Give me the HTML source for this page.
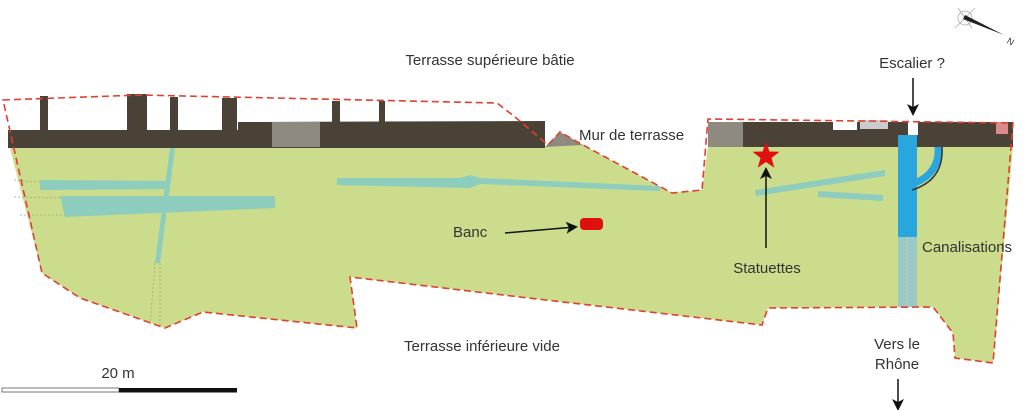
<!DOCTYPE html>
<html><head><meta charset="utf-8"><style>
html,body{margin:0;padding:0;background:#fff;}
svg{display:block;}
text{font-family:"Liberation Sans",sans-serif;fill:#333;font-size:15px;}
</style></head><body>
<svg width="1024" height="410" viewBox="0 0 1024 410" xmlns="http://www.w3.org/2000/svg">
<defs>
<marker id="ah" markerWidth="12" markerHeight="12" refX="9" refY="6" orient="auto" markerUnits="userSpaceOnUse">
<path d="M0,0 L12,6 L0,12 L3,6 Z" fill="#111"/></marker>
</defs>
<path d="M8,148 L545,147 L560,132 L583,145 L672,193 L702,190 L708,147 L1013,147 L993,363 L955,358 L953,333 L933,307 L768,308 L762,325 L520,297 L350,277 L357,328 L203,312 L165,328 L80,298 L42,273 L10,148 Z" fill="#cbdc8c"/>
<path d="M8,130 L238,130 L238,122 L545,121 L545,148 L8,148 Z" fill="#4a4236"/>
<rect x="272" y="122" width="48" height="25" fill="#8f8a80"/>
<rect x="40" y="96" width="8" height="35" fill="#4a4236"/>
<rect x="127" y="94" width="20" height="37" fill="#4a4236"/>
<rect x="170" y="97" width="8" height="34" fill="#4a4236"/>
<rect x="222" y="98" width="15" height="32" fill="#4a4236"/>
<rect x="332" y="101" width="8" height="22" fill="#4a4236"/>
<rect x="379" y="101" width="6" height="22" fill="#4a4236"/>
<path d="M545,147 L560,132 L583,145 Z" fill="#8f8a80"/>
<rect x="708" y="122" width="305" height="25" fill="#4a4236"/>
<rect x="708" y="122" width="35" height="25" fill="#8f8a80"/>
<rect x="833" y="121" width="24" height="9" fill="#fff"/>
<rect x="860" y="120" width="28" height="9" fill="#ccc"/>
<rect x="908" y="121" width="10" height="14" fill="#fff"/>
<rect x="996" y="122" width="12" height="12" fill="#d98a8a"/>
<path d="M40,180 L170,181 L170,189 L40,190 Z" fill="#8ccdbd"/>
<path d="M60,196 L275,196 L275,208 L65,217 Z" fill="#8ccdbd"/>
<path d="M170,148 L175,148 L160,263 L155,263 Z" fill="#8ccdbd"/>
<path d="M155,263 L150,326 M160,263 L160,326" stroke="#9aae70" stroke-width="0.8" stroke-dasharray="2,2"/>
<path d="M337,178 L460,178 L470,175 L480,178 L660,186 L660,191 L480,184 L470,188 L337,185 Z" fill="#8ccdbd"/>
<path d="M755,190 L885,170 L885,176 L756,196 Z" fill="#8ccdbd"/>
<path d="M818,191 L883,195 L883,201 L818,197 Z" fill="#8ccdbd"/>
<path d="M14,180 L40,182 M14,197 L60,198 M20,215 L65,215" stroke="#9aae70" stroke-width="0.8" stroke-dasharray="2,2"/>
<rect x="898" y="135" width="19" height="102" fill="#2aa6df"/>
<path d="M938,147 Q940,175 910,185" stroke="#2aa6df" stroke-width="7" fill="none"/>
<path d="M942,147 Q944,180 912,190" stroke="#333" stroke-width="1.5" fill="none"/>
<rect x="898" y="237" width="19" height="70" fill="#9cc9c8"/>
<path d="M907,237 L907,307" stroke="#cbdc8c" stroke-width="1" stroke-dasharray="2,2"/>
<path d="M3,100 L140,95 L497,103 L515,117 L548,145 L560,132 L583,145 L672,193 L702,190 L708,119 L1013,123 L993,363 L955,358 L953,333 L933,307 L768,308 L762,325 L520,297 L350,277 L357,328 L203,312 L165,328 L80,298 L42,273 Z" fill="none" stroke="#e0402f" stroke-width="1.6" stroke-dasharray="7,4"/>
<rect x="580" y="218" width="23" height="12" rx="4" fill="#e01010"/>
<line x1="505" y1="233" x2="575" y2="227" stroke="#111" stroke-width="1.5" marker-end="url(#ah)"/>
<polygon points="766,142 769.4,151.5 779.5,151.8 771.5,158 774.3,167.7 766,162 757.7,167.7 760.5,158 752.5,151.8 762.6,151.5" fill="#e01010"/>
<line x1="766" y1="248" x2="766" y2="170" stroke="#111" stroke-width="1.5" marker-end="url(#ah)"/>
<line x1="913" y1="78" x2="913" y2="113" stroke="#111" stroke-width="1.5" marker-end="url(#ah)"/>
<line x1="898" y1="379" x2="898" y2="408" stroke="#111" stroke-width="1.5" marker-end="url(#ah)"/>
<text x="490" y="65" text-anchor="middle">Terrasse supérieure bâtie</text>
<text x="579" y="140">Mur de terrasse</text>
<text x="912" y="68" text-anchor="middle">Escalier ?</text>
<text x="453" y="237">Banc</text>
<text x="767" y="273" text-anchor="middle">Statuettes</text>
<text x="922" y="252">Canalisations</text>
<text x="482" y="351" text-anchor="middle">Terrasse inférieure vide</text>
<text x="897" y="349" text-anchor="middle">Vers le</text>
<text x="897" y="369" text-anchor="middle">Rhône</text>
<text x="118" y="378" text-anchor="middle">20 m</text>
<rect x="2" y="388" width="117" height="4" fill="#fff" stroke="#555" stroke-width="0.8"/>
<rect x="119" y="388" width="118" height="4.5" fill="#111"/>
<g stroke="#aaa" stroke-width="0.8" fill="none">
<circle cx="965" cy="18" r="7"/>
<line x1="955" y1="28" x2="975" y2="8"/><line x1="958" y1="8" x2="972" y2="28"/>
</g>
<path d="M963,19 L1004,35 L965,15 Z" fill="#222"/>
<text x="1008" y="44" style="font-size:9px" transform="rotate(30 1010 40)">N</text>
</svg>
</body></html>
